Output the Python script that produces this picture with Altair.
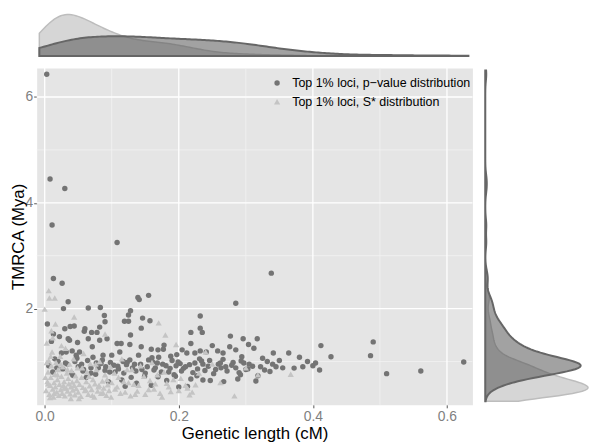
import altair as alt
import pandas as pd

LABEL_P = "Top 1% loci, p\u2212value distribution"
LABEL_S = "Top 1% loci, S* distribution"

# dark circles: p-value distribution (genetic length cM, TMRCA Mya)
p_x = [0.003, 0.008, 0.030, 0.011, 0.108,
       0.013, 0.026, 0.035, 0.028, 0.065, 0.083, 0.089, 0.128, 0.125, 0.139, 0.141, 0.155, 0.285, 0.338,
       0.232, 0.232, 0.235, 0.218, 0.146, 0.157, 0.144, 0.119, 0.125, 0.128, 0.090, 0.082, 0.078, 0.070,
       0.060, 0.059, 0.038, 0.044, 0.030, 0.022, 0.004, 0.013, 0.010, 0.035, 0.037, 0.049, 0.065, 0.071,
       0.082, 0.093, 0.108, 0.114, 0.127, 0.144, 0.159, 0.169, 0.177, 0.178, 0.188, 0.197, 0.212, 0.218,
       0.224, 0.232, 0.241, 0.258, 0.266, 0.277, 0.276, 0.285, 0.296, 0.304, 0.317, 0.312, 0.341, 0.364,
       0.380, 0.266, 0.281, 0.293, 0.305, 0.322, 0.332, 0.345, 0.336, 0.318, 0.315, 0.292, 0.288, 0.267,
       0.247, 0.236, 0.227, 0.218, 0.200, 0.213, 0.182, 0.169, 0.161, 0.176, 0.190, 0.202, 0.207, 0.224,
       0.236, 0.246, 0.145, 0.134, 0.127, 0.117, 0.109, 0.100, 0.087, 0.077, 0.090, 0.069, 0.058, 0.047,
       0.052, 0.041, 0.032, 0.025, 0.031, 0.115, 0.129, 0.120, 0.137, 0.159, 0.155,
       0.372, 0.385, 0.392, 0.400, 0.404, 0.410, 0.412, 0.427, 0.486, 0.490, 0.510, 0.561, 0.625,
       0.018, 0.040, 0.055, 0.062, 0.080, 0.095, 0.105, 0.150, 0.165, 0.185, 0.195, 0.255, 0.270, 0.300,
       0.015, 0.045, 0.072, 0.098, 0.112, 0.140, 0.170, 0.205, 0.250, 0.285, 0.325, 0.350,
       0.006, 0.012, 0.020, 0.027, 0.034, 0.042, 0.050, 0.057, 0.064, 0.069, 0.076, 0.084, 0.091, 0.097,
       0.103, 0.110, 0.118, 0.123, 0.131, 0.136, 0.143, 0.149, 0.153, 0.163, 0.168, 0.174, 0.181, 0.187,
       0.193, 0.199, 0.204, 0.210, 0.216, 0.221, 0.228, 0.234, 0.239, 0.244, 0.252, 0.259, 0.263, 0.272,
       0.279, 0.290, 0.297, 0.303, 0.310, 0.328, 0.340, 0.355, 0.048, 0.086, 0.122, 0.160, 0.196, 0.231,
       0.262, 0.294]
p_y = [6.43, 4.45, 4.27, 3.58, 3.25,
       2.57, 2.48, 2.13, 2.00, 2.01, 2.02, 1.87, 1.96, 1.88, 2.21, 2.17, 2.25, 2.10, 2.67,
       1.86, 1.63, 1.55, 1.55, 1.82, 1.77, 1.63, 1.76, 1.76, 1.50, 1.75, 1.65, 1.55, 1.55,
       1.62, 1.57, 1.66, 1.67, 1.62, 1.47, 1.71, 1.52, 1.38, 1.43, 1.40, 1.36, 1.43, 1.28,
       1.40, 1.43, 1.34, 1.34, 1.32, 1.28, 1.23, 1.22, 1.23, 1.31, 1.10, 1.13, 1.16, 1.34,
       1.16, 1.20, 1.18, 1.20, 1.16, 1.48, 1.28, 1.22, 1.43, 1.32, 1.43, 1.25, 1.16, 1.16,
       1.08, 1.04, 0.98, 1.01, 0.95, 0.90, 1.00, 0.90, 0.81, 0.73, 0.63, 0.75, 0.67, 0.62,
       0.64, 0.65, 0.73, 0.67, 0.52, 0.53, 0.64, 0.71, 0.99, 0.95, 1.02, 0.96, 0.87, 0.97,
       0.95, 1.02, 0.85, 0.95, 1.03, 1.00, 0.91, 1.12, 1.12, 0.97, 0.83, 0.78, 0.85, 1.12,
       1.18, 1.20, 1.18, 1.16, 0.97, 0.65, 0.70, 0.53, 0.59, 0.55, 1.03,
       0.875, 0.90, 1.00, 0.92, 0.97, 0.84, 1.30, 1.09, 1.11, 1.37, 0.77, 0.82, 0.99,
       0.88, 0.78, 0.95, 0.70, 0.88, 0.62, 0.80, 0.78, 0.88, 0.80, 0.72, 0.85, 0.90, 0.85,
       1.05, 1.00, 1.08, 0.98, 1.18, 1.12, 1.08, 1.22, 1.30, 0.88, 1.06, 1.02,
       0.92, 0.80, 1.00, 0.86, 0.95, 0.74, 0.90, 0.82, 1.02, 0.88, 0.76, 0.96, 0.90, 0.80,
       0.93, 0.86, 0.78, 0.98, 0.88, 0.82, 0.95, 0.72, 0.90, 0.84, 0.97, 0.80, 0.92, 0.87,
       0.75, 0.99, 0.82, 0.90, 0.94, 0.79, 0.86, 1.01, 0.83, 0.91, 0.77, 0.95, 0.88, 0.82,
       0.93, 0.79, 0.97, 0.86, 0.91, 0.84, 0.95, 0.88, 1.06, 1.03, 0.94, 1.07, 0.92, 1.05,
       0.97, 1.09]

# light triangles: S* distribution
s_x = [0.000, 0.006, 0.007, 0.015, 0.044, 0.016, 0.010, 0.090, 0.170, 0.180, 0.196, 0.003, 0.012, 0.025,
       0.002, 0.004, 0.005, 0.006, 0.007, 0.008, 0.009, 0.010, 0.011, 0.012, 0.013, 0.014, 0.015, 0.016,
       0.017, 0.018, 0.019, 0.020, 0.021, 0.022, 0.023, 0.024, 0.025, 0.026, 0.027, 0.028, 0.029, 0.030,
       0.031, 0.032, 0.033, 0.034, 0.035, 0.036, 0.037, 0.038, 0.039, 0.040, 0.041, 0.042, 0.043, 0.044,
       0.045, 0.046, 0.047, 0.048, 0.049, 0.050, 0.052, 0.054, 0.055, 0.057, 0.058, 0.060, 0.062, 0.063,
       0.065, 0.067, 0.068, 0.070, 0.072, 0.074, 0.075, 0.077, 0.079, 0.080, 0.082, 0.084, 0.086, 0.088,
       0.090, 0.092, 0.094, 0.096, 0.098, 0.100,
       0.105, 0.110, 0.115, 0.120, 0.125, 0.130, 0.135, 0.140, 0.148, 0.155, 0.160, 0.165, 0.172, 0.178,
       0.185, 0.192, 0.200, 0.210, 0.213, 0.220, 0.230, 0.240, 0.250, 0.262, 0.283, 0.318, 0.367, 0.300,
       0.051, 0.056, 0.061, 0.066, 0.071, 0.076, 0.081, 0.087, 0.093, 0.099, 0.104, 0.108, 0.113, 0.118,
       0.123, 0.128, 0.133, 0.138, 0.143, 0.150, 0.157, 0.163, 0.168, 0.175, 0.182, 0.188, 0.203, 0.216,
       0.225, 0.005, 0.009, 0.014, 0.019, 0.024, 0.029, 0.034, 0.039, 0.001, 0.003, 0.008]
s_y = [1.99, 2.34, 2.20, 2.20, 1.84, 1.71, 1.58, 1.52, 1.73, 1.50, 1.32, 1.35, 1.45, 1.30,
       0.45, 0.62, 0.80, 1.02, 0.38, 0.55, 0.70, 0.92, 1.18, 0.48, 0.33, 0.60, 0.76, 0.52,
       0.98, 0.42, 0.66, 0.85, 0.36, 0.57, 1.10, 0.47, 0.72, 0.40, 0.90, 0.55, 0.62, 0.35,
       1.25, 0.50, 0.78, 0.44, 0.68, 0.58, 0.95, 0.39, 0.52, 0.83, 0.61, 0.46, 1.05, 0.55,
       0.37, 0.73, 0.49, 0.64, 0.88, 0.42, 0.57, 0.34, 0.70, 0.51, 1.15, 0.45, 0.62, 0.80,
       0.38, 0.54, 0.96, 0.47, 0.66, 0.33, 0.58, 0.85, 0.44, 0.52, 1.00, 0.40, 0.63, 0.50,
       0.75, 0.36, 0.56, 0.45, 0.90, 0.60,
       0.48, 0.70, 1.05, 0.42, 0.60, 0.85, 0.38, 0.55, 0.72, 0.47, 0.98, 0.58, 0.40, 0.80,
       0.52, 0.66, 0.45, 0.55, 0.50, 0.42, 0.78, 1.18, 0.95, 0.60, 0.35, 0.75, 0.76, 0.88,
       0.30, 0.88, 0.47, 0.72, 0.36, 0.95, 0.55, 0.41, 0.66, 0.33, 0.78, 0.52, 0.40, 0.62,
       0.85, 0.35, 0.57, 0.44, 0.92, 0.38, 0.64, 0.48, 0.75, 0.33, 0.59, 0.43, 0.68, 0.37,
       0.56, 0.58, 1.10, 0.40, 0.75, 0.95, 0.50, 0.85, 0.30, 0.70, 0.98, 0.32]

x_major = [0.0, 0.2, 0.4, 0.6]
x_minor = [0.1, 0.3, 0.5]
y_major = [2, 4, 6]
y_minor = [1, 3, 5]

FONT = "Liberation Sans"

df = pd.concat([
    pd.DataFrame({"x": p_x, "y": p_y, "series": LABEL_P}),
    pd.DataFrame({"x": s_x, "y": s_y, "series": LABEL_S}),
], ignore_index=True)
df["idx"] = range(len(df))

xscale = alt.Scale(domain=[-0.012, 0.638], nice=False, zero=False)
yscale = alt.Scale(domain=[0.18, 6.55], nice=False, zero=False)

x_axis = alt.Axis(values=x_major, format=".1f", title="Genetic length (cM)", grid=False, domain=False,
                  tickColor="#555555", tickSize=3, labelColor="#7f7f7f", labelFontSize=14, labelFont=FONT,
                  labelPadding=2, titleFont=FONT, titleFontSize=17, titleFontWeight="normal",
                  titleColor="#000000", titlePadding=2)
y_axis = alt.Axis(values=y_major, format="d", title="TMRCA (Mya)", grid=False, domain=False,
                  tickColor="#555555", tickSize=3, labelColor="#7f7f7f", labelFontSize=14, labelFont=FONT,
                  labelPadding=1, titleFont=FONT, titleFontSize=17, titleFontWeight="normal",
                  titleColor="#000000", titlePadding=-2)
legend = alt.Legend(title=None, orient="none", legendX=237, legendY=63, symbolSize=70,
                    labelFont=FONT, labelFontSize=12.6, labelColor="#000000", labelLimit=400,
                    rowPadding=6, labelOffset=9, padding=0)

W, H = 441, 341
RW, TH = 104, 42

xgrid_minor = alt.Chart(pd.DataFrame({"x": x_minor})).mark_rule(color="#f2f2f2", strokeWidth=0.8).encode(
    x=alt.X("x:Q", scale=xscale, axis=x_axis))
ygrid_minor = alt.Chart(pd.DataFrame({"y": y_minor})).mark_rule(color="#f2f2f2", strokeWidth=0.8).encode(
    y=alt.Y("y:Q", scale=yscale, axis=y_axis))
xgrid_major = alt.Chart(pd.DataFrame({"x": x_major})).mark_rule(color="#ffffff", strokeWidth=1.3).encode(
    x=alt.X("x:Q", scale=xscale, axis=x_axis))
ygrid_major = alt.Chart(pd.DataFrame({"y": y_major})).mark_rule(color="#ffffff", strokeWidth=1.3).encode(
    y=alt.Y("y:Q", scale=yscale, axis=y_axis))

points = alt.Chart(df).mark_point(filled=True, opacity=1).encode(
    x=alt.X("x:Q", scale=xscale, axis=x_axis),
    y=alt.Y("y:Q", scale=yscale, axis=y_axis),
    color=alt.Color("series:N", scale=alt.Scale(domain=[LABEL_P, LABEL_S], range=["#747474", "#c4c4c4"]),
                    legend=legend),
    shape=alt.Shape("series:N", scale=alt.Scale(domain=[LABEL_P, LABEL_S], range=["circle", "triangle-up"]),
                    legend=legend),
    size=alt.Size("series:N", scale=alt.Scale(domain=[LABEL_P, LABEL_S], range=[30, 40]), legend=None),
    order=alt.Order("idx:Q"),
)

scatter = alt.layer(xgrid_minor, ygrid_minor, xgrid_major, ygrid_major, points).properties(
    width=W, height=H, view=alt.ViewBackground(fill="#e5e5e5", stroke="transparent"))

# top marginal density of genetic length
top_base = alt.Chart(df).transform_density("x", groupby=["series"], as_=["x", "density"],
                                           extent=[-0.008, 0.632], steps=200)
top_light = top_base.transform_filter(alt.datum.series == LABEL_S).mark_area(
    fill="#c8c8c8", fillOpacity=0.75, stroke="#bdbdbd", strokeWidth=1.5).encode(
    x=alt.X("x:Q", scale=xscale, axis=None),
    y=alt.Y("density:Q", scale=alt.Scale(nice=False, zero=True), axis=None))
top_dark = top_base.transform_filter(alt.datum.series == LABEL_P).mark_area(
    fill="#555555", fillOpacity=0.55, stroke="#666666", strokeWidth=2).encode(
    x=alt.X("x:Q", scale=xscale, axis=None),
    y=alt.Y("density:Q", axis=None))
top = alt.layer(top_light, top_dark).properties(
    width=W, height=TH, view=alt.ViewBackground(stroke="transparent"))

# right marginal density of TMRCA
right_base = alt.Chart(df).transform_density("y", groupby=["series"], as_=["y", "density"],
                                             extent=[0.25, 6.5], steps=300)
right_light = right_base.transform_filter(alt.datum.series == LABEL_S).mark_area(
    orient="horizontal", fill="#c8c8c8", fillOpacity=0.75, stroke="#bdbdbd", strokeWidth=1.5).encode(
    y=alt.Y("y:Q", scale=yscale, axis=None),
    x=alt.X("density:Q", scale=alt.Scale(nice=False, zero=True), axis=None))
right_dark = right_base.transform_filter(alt.datum.series == LABEL_P).mark_area(
    orient="horizontal", fill="#555555", fillOpacity=0.55, stroke="#666666", strokeWidth=2).encode(
    y=alt.Y("y:Q", scale=yscale, axis=None),
    x=alt.X("density:Q", axis=None))
right = alt.layer(right_light, right_dark).properties(
    width=RW, height=H, view=alt.ViewBackground(stroke="transparent"))

row = alt.hconcat(scatter, right, spacing=13, bounds="flush").resolve_scale(x="independent", y="independent")
chart = alt.vconcat(top, row, spacing=12, bounds="flush").resolve_scale(
    x="independent", y="independent").properties(padding=0).configure_view(stroke="transparent")

chart.save("out.html", embed_options={"renderer": "svg", "actions": False})
